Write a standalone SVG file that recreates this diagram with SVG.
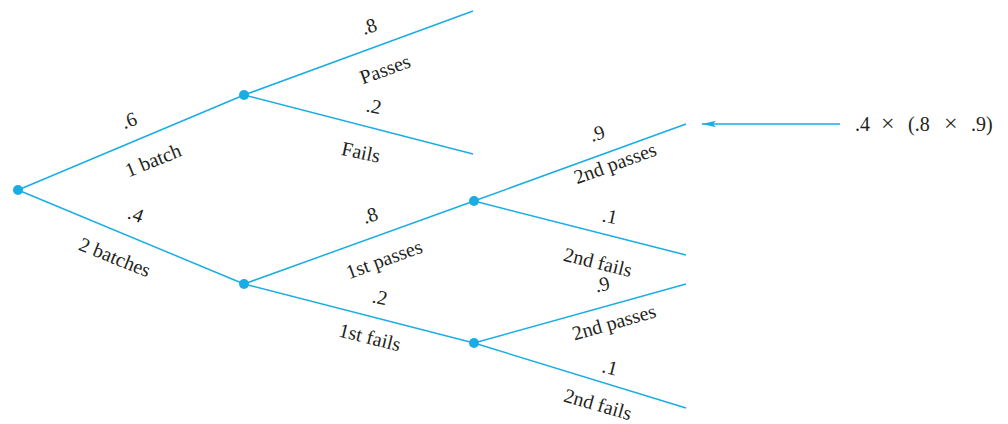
<svg xmlns="http://www.w3.org/2000/svg" width="1008" height="424" viewBox="0 0 1008 424">
<style>
.e{stroke:#1AADE4;stroke-width:1.5;fill:none}
.n{fill:#1AADE4}
.t{font-family:'Liberation Serif','DejaVu Serif','Times New Roman',serif;font-size:20px;fill:#231F20}
.c{text-anchor:middle;dominant-baseline:central}
.x{font-size:24px}
</style>
<defs>
<marker id="ah" viewBox="0 0 14 8" refX="14" refY="4" markerWidth="14" markerHeight="8" markerUnits="userSpaceOnUse" orient="auto">
<path d="M14,4 L0,0.8 L3,4 L0,7.2 Z" fill="#1AADE4"/>
</marker>
</defs>
<rect width="1008" height="424" fill="#fff"/>
<g id="connectors">
<line class="e" x1="18" y1="190" x2="244" y2="95"/>
<line class="e" x1="18" y1="190" x2="244" y2="284"/>
<line class="e" x1="244" y1="95" x2="473" y2="11"/>
<line class="e" x1="244" y1="95" x2="473" y2="154"/>
<line class="e" x1="244" y1="284" x2="474" y2="201"/>
<line class="e" x1="244" y1="284" x2="474" y2="343"/>
<line class="e" x1="474" y1="201" x2="686" y2="124"/>
<line class="e" x1="474" y1="201" x2="686" y2="255"/>
<line class="e" x1="474" y1="343" x2="686" y2="284"/>
<line class="e" x1="474" y1="343" x2="686" y2="408"/>
<line class="e" x1="840" y1="124" x2="702" y2="124" marker-end="url(#ah)"/>
</g>
<g id="root"><circle class="n" cx="18" cy="190" r="5"/></g>
<g id="n1batch"><circle class="n" cx="244" cy="95" r="5"/></g>
<g id="n2batches"><circle class="n" cx="244" cy="284" r="5"/></g>
<g id="n1stpasses"><circle class="n" cx="474" cy="201" r="5"/></g>
<g id="n1stfails"><circle class="n" cx="474" cy="343" r="5"/></g>
<g id="labels" class="t">
<text class="c" transform="translate(129,120) rotate(-20)">.6</text>
<text class="c" transform="translate(153,160) rotate(-22)">1 batch</text>
<text class="c" transform="translate(136,214) rotate(20)">.4</text>
<text class="c" transform="translate(115,257) rotate(22)">2 batches</text>
<text class="c" transform="translate(369,26) rotate(-18)">.8</text>
<text class="c" transform="translate(385,69) rotate(-20)">Passes</text>
<text class="c" transform="translate(374,106) rotate(12)">.2</text>
<text class="c" transform="translate(361,152) rotate(12)">Fails</text>
<text class="c" transform="translate(370,215) rotate(-18)">.8</text>
<text class="c" transform="translate(384,259) rotate(-20)">1st passes</text>
<text class="c" transform="translate(380,297) rotate(12)">.2</text>
<text class="c" transform="translate(370,337) rotate(14)">1st fails</text>
<text class="c" transform="translate(597,133) rotate(-18)">.9</text>
<text class="c" transform="translate(615,163) rotate(-20)">2nd passes</text>
<text class="c" transform="translate(610,216) rotate(12)">.1</text>
<text class="c" transform="translate(598,262) rotate(14)">2nd fails</text>
<text class="c" transform="translate(602,284) rotate(-14)">.9</text>
<text class="c" transform="translate(614,322) rotate(-16)">2nd passes</text>
<text class="c" transform="translate(610,367) rotate(14)">.1</text>
<text class="c" transform="translate(598,404) rotate(16)">2nd fails</text>
</g>
<g id="result" class="t">
<text y="131"><tspan x="855">.4</tspan><tspan x="881" class="x">×</tspan><tspan x="908">(.8</tspan><tspan x="944" class="x">×</tspan><tspan x="971">.9)</tspan></text>
</g>
</svg>
